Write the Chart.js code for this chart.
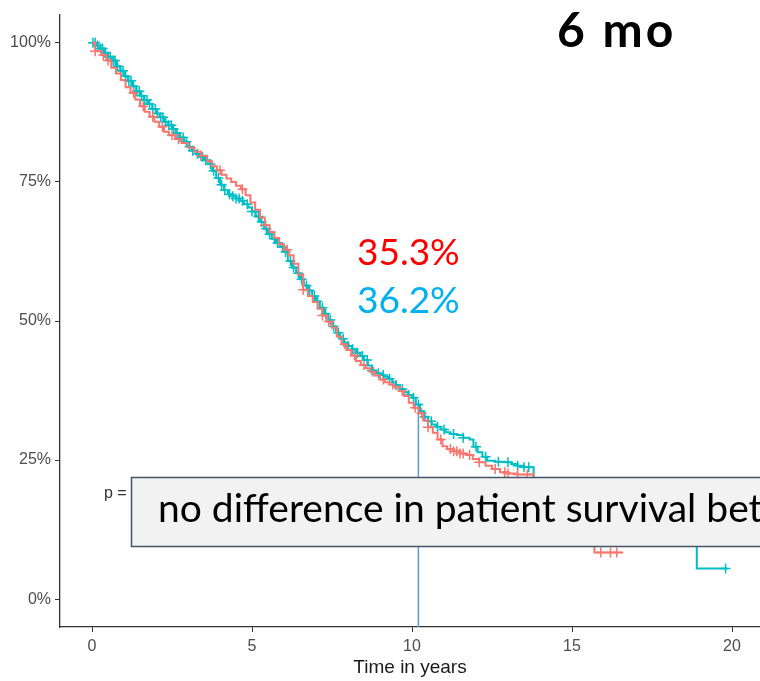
<!DOCTYPE html>
<html>
<head>
<meta charset="utf-8">
<script src="https://cdn.jsdelivr.net/npm/chart.js@4.4.0/dist/chart.umd.min.js"></script>
<style>
  html, body { margin: 0; padding: 0; background: #fff; }
  #wrap { width: 760px; height: 681px; position: relative; }
</style>
</head>
<body>
<div id="wrap"><canvas id="km"></canvas></div>
<script>
// tick positions
var xTicks = [0, 5, 10, 15, 20];
var yTicks = [0, 0.25, 0.5, 0.75, 1];

// Kaplan-Meier steps, group 1 (red)
var redTime = [0, 0.1, 0.3, 0.45, 0.6, 0.75, 0.9, 1.05, 1.2, 1.35, 1.5, 1.65, 1.8, 1.95, 2.1, 2.25, 2.4, 2.6, 2.8, 3.0,
  3.2, 3.4, 3.6, 3.75, 3.9, 4.05, 4.2, 4.35, 4.5, 4.65, 4.8, 4.95, 5.1, 5.25, 5.4, 5.55, 5.7, 5.85, 6.0, 6.15,
  6.3, 6.45, 6.6, 6.75, 6.9, 7.05, 7.2, 7.35, 7.5, 7.65, 7.8, 7.95, 8.1, 8.25, 8.4, 8.55, 8.7, 8.85, 9.0, 9.15,
  9.3, 9.45, 9.6, 9.75, 9.9, 10.05, 10.2, 10.35, 10.5, 10.65, 10.8, 10.95, 11.1, 11.3, 11.5, 11.7, 11.9, 12.1, 12.3, 12.5,
  12.75, 13.0, 13.3, 13.8, 14.4, 14.9, 15.4, 15.7, 16.6];
var redSurv = [1.0, 0.985, 0.978, 0.968, 0.955, 0.945, 0.933, 0.92, 0.91, 0.898, 0.886, 0.876, 0.867, 0.858, 0.849, 0.84, 0.834, 0.827, 0.82, 0.812,
  0.804, 0.797, 0.787, 0.778, 0.771, 0.763, 0.756, 0.75, 0.743, 0.737, 0.726, 0.713, 0.7, 0.686, 0.672, 0.66, 0.649, 0.638, 0.628, 0.618,
  0.603, 0.583, 0.556, 0.545, 0.534, 0.522, 0.51, 0.499, 0.488, 0.472, 0.458, 0.448, 0.438, 0.428, 0.421, 0.415, 0.409, 0.402, 0.395, 0.39,
  0.386, 0.381, 0.374, 0.365, 0.353, 0.344, 0.334, 0.321, 0.309, 0.299, 0.287, 0.275, 0.27, 0.266, 0.262, 0.259, 0.252, 0.246, 0.24, 0.234,
  0.228, 0.226, 0.224, 0.2, 0.17, 0.145, 0.115, 0.084, 0.084];
var redCensor = [0.1, 0.35, 0.5, 1.3, 1.6, 1.9, 2.2, 2.5, 2.7, 3.4, 4.0, 4.7, 5.4, 6.1, 6.6, 7.2, 7.4, 7.9, 8.2, 8.5,
  8.8, 9.1, 9.4, 9.7, 10.1, 10.3, 10.5, 10.9, 11.2, 11.3, 11.4, 11.5, 11.6, 11.8, 12.1, 12.6, 12.9, 13.0, 13.3, 13.6,
  15.9, 16.2, 16.4];

// group 2 (teal)
var tealTime = [0, 0.12, 0.25, 0.38, 0.5, 0.62, 0.75, 0.88, 1.0, 1.12, 1.25, 1.38, 1.5, 1.62, 1.75, 1.88, 2.0, 2.12, 2.25, 2.38,
  2.5, 2.62, 2.75, 2.88, 3.0, 3.12, 3.25, 3.38, 3.5, 3.62, 3.75, 3.88, 4.0, 4.12, 4.25, 4.38, 4.5, 4.62, 4.75, 4.88,
  5.0, 5.12, 5.25, 5.38, 5.5, 5.62, 5.75, 5.88, 6.0, 6.12, 6.25, 6.38, 6.5, 6.62, 6.75, 6.88, 7.0, 7.12, 7.25, 7.38,
  7.5, 7.62, 7.75, 7.88, 8.0, 8.12, 8.25, 8.38, 8.5, 8.62, 8.75, 8.88, 9.0, 9.12, 9.25, 9.38, 9.5, 9.62, 9.75, 9.88,
  10.0, 10.12, 10.25, 10.38, 10.5, 10.62, 10.75, 10.9, 11.05, 11.2, 11.4, 11.6, 11.8, 11.92, 12.05, 12.2, 12.35, 12.6, 12.9, 13.1,
  13.3, 13.5, 13.8, 14.4, 15.0, 15.8, 16.6, 17.5, 18.9, 19.85];
var tealSurv = [1.0, 0.995, 0.99, 0.982, 0.975, 0.968, 0.958, 0.95, 0.94, 0.932, 0.922, 0.913, 0.905, 0.897, 0.89, 0.881, 0.873, 0.866, 0.858, 0.852,
  0.845, 0.838, 0.83, 0.822, 0.813, 0.806, 0.8, 0.795, 0.789, 0.782, 0.77, 0.757, 0.745, 0.735, 0.728, 0.724, 0.72, 0.716, 0.71, 0.704,
  0.697, 0.688, 0.678, 0.666, 0.656, 0.648, 0.64, 0.633, 0.624, 0.608, 0.596, 0.586, 0.575, 0.564, 0.555, 0.545, 0.535, 0.524, 0.513, 0.502,
  0.49, 0.479, 0.468, 0.461, 0.455, 0.449, 0.443, 0.437, 0.43, 0.42, 0.411, 0.406, 0.403, 0.4, 0.396, 0.39, 0.385, 0.378, 0.372, 0.367,
  0.362, 0.35, 0.338, 0.328, 0.32, 0.314, 0.31, 0.305, 0.3, 0.297, 0.295, 0.29, 0.287, 0.274, 0.264, 0.256, 0.249, 0.247, 0.246, 0.243,
  0.24, 0.237, 0.215, 0.2, 0.185, 0.16, 0.135, 0.115, 0.055, 0.055];
var tealCensor = [0.03, 0.1, 0.18, 0.27, 0.33, 0.42, 0.5, 0.57, 0.66, 0.72, 0.8, 0.9, 0.97, 1.05, 1.15, 1.22, 1.3, 1.4, 1.48, 1.55,
  1.65, 1.72, 1.8, 1.9, 1.98, 2.05, 2.15, 2.22, 2.3, 2.4, 2.48, 2.55, 2.66, 2.75, 2.85, 2.95, 3.05, 3.15, 3.3, 3.45,
  3.55, 3.7, 3.8, 3.95, 4.05, 4.15, 4.3, 4.4, 4.5, 4.6, 4.7, 4.85, 5.0, 5.1, 5.2, 5.3, 5.45, 5.55, 5.7, 5.8,
  5.95, 6.05, 6.2, 6.3, 6.45, 6.55, 6.7, 6.8, 6.95, 7.05, 7.2, 7.3, 7.45, 7.55, 7.7, 7.85, 8.0, 8.15, 8.3, 8.45,
  8.6, 8.75, 8.95, 9.1, 9.3, 9.5, 9.7, 9.9, 10.05, 10.2, 10.4, 10.6, 10.8, 11.0, 11.3, 11.6, 12.0, 12.3, 12.7, 13.0,
  13.3, 13.5, 13.65, 19.8];

// 10-year marker
var markTime = 10.2;
var markSurv = 0.336;

var RED = '#F8766D', TEAL = '#00BFC4';

function survAt(times, surv, t) {
  var s = surv[0];
  for (var i = 0; i < times.length; i++) {
    if (times[i] <= t) s = surv[i];
  }
  return s;
}

function curve(times, surv) {
  return times.map(function (t, i) { return { x: t, y: surv[i] }; });
}

function censor(times, surv, cens) {
  return cens.map(function (t) { return { x: t, y: survAt(times, surv, t) }; });
}

var overlay = {
  id: 'overlay',
  afterDatasetsDraw: function (chart) {
    var ctx = chart.ctx;
    ctx.save();
    ctx.textBaseline = 'alphabetic';

    ctx.fillStyle = '#333333';
    ctx.font = '16px "Liberation Sans", Arial, sans-serif';
    ctx.fillText('p =', 104, 498);

    ctx.fillStyle = '#F2F2F2';
    ctx.fillRect(131, 477, 650, 70);
    ctx.strokeStyle = '#44546A';
    ctx.lineWidth = 1.5;
    ctx.strokeRect(131.5, 477.5, 650, 69);

    ctx.fillStyle = '#000000';
    ctx.font = '39px Lato, sans-serif';
    ctx.fillText('no difference in patient survival bet', 158, 522);

    ctx.font = 'bold 48px Lato, sans-serif';
    ctx.letterSpacing = '3px';
    ctx.fillText('6 mo', 557, 47);
    ctx.letterSpacing = '0px';

    ctx.font = '37px Lato, sans-serif';
    ctx.fillStyle = '#FF0000';
    ctx.fillText('35.3%', 357, 265);
    ctx.fillStyle = '#00B0F0';
    ctx.fillText('36.2%', 357, 313);
    ctx.restore();
  }
};

Chart.defaults.font.family = '"Liberation Sans", Arial, sans-serif';

new Chart(document.getElementById('km'), {
  type: 'line',
  data: {
    datasets: [
      {
        data: curve(redTime, redSurv),
        borderColor: RED, borderWidth: 2, stepped: 'before',
        pointRadius: 0, fill: false
      },
      {
        data: curve(tealTime, tealSurv),
        borderColor: TEAL, borderWidth: 2, stepped: 'before',
        pointRadius: 0, fill: false
      },
      {
        data: censor(redTime, redSurv, redCensor),
        showLine: false, pointStyle: 'cross', pointRadius: 5,
        pointBorderColor: RED, pointBorderWidth: 1.5
      },
      {
        data: censor(tealTime, tealSurv, tealCensor),
        showLine: false, pointStyle: 'cross', pointRadius: 5,
        pointBorderColor: TEAL, pointBorderWidth: 1.5
      },
      {
        data: [{ x: markTime, y: markSurv }, { x: markTime, y: -0.05 }],
        borderColor: '#5B9BD5', borderWidth: 1.5, pointRadius: 0, fill: false
      }
    ]
  },
  options: {
    responsive: true,
    maintainAspectRatio: false,
    animation: false,
    layout: { autoPadding: false, padding: { top: 15, right: 0, left: 0, bottom: 0 } },
    plugins: { legend: { display: false }, tooltip: { enabled: false } },
    scales: {
      x: {
        type: 'linear', min: -1.0, max: 20.875,
        afterBuildTicks: function (s) { s.ticks = xTicks.map(function (v) { return { value: v }; }); },
        afterFit: function (s) { s.height = 54; s.paddingLeft = 0; s.paddingRight = 0; },
        grid: { display: true, drawOnChartArea: false, drawTicks: true, tickLength: 5, color: '#333333' },
        border: { display: true, color: '#333333', width: 1.3 },
        ticks: { color: '#4D4D4D', font: { size: 16 }, padding: 5, maxRotation: 0 },
        title: { display: true, text: 'Time in years', color: '#1A1A1A', font: { size: 19 }, padding: { top: 0, bottom: 2 } }
      },
      y: {
        type: 'linear', min: -0.05, max: 1.05,
        afterBuildTicks: function (s) { s.ticks = yTicks.map(function (v) { return { value: v }; }); },
        afterFit: function (s) { s.width = 60; s.paddingTop = 0; s.paddingBottom = 0; },
        grid: { display: true, drawOnChartArea: false, drawTicks: true, tickLength: 5, color: '#333333' },
        border: { display: true, color: '#333333', width: 1.3 },
        ticks: {
          color: '#4D4D4D', font: { size: 16 }, padding: 4,
          callback: function (v) { return Math.round(v * 100) + '%'; }
        }
      }
    }
  },
  plugins: [overlay]
});
</script>
</body>
</html>
